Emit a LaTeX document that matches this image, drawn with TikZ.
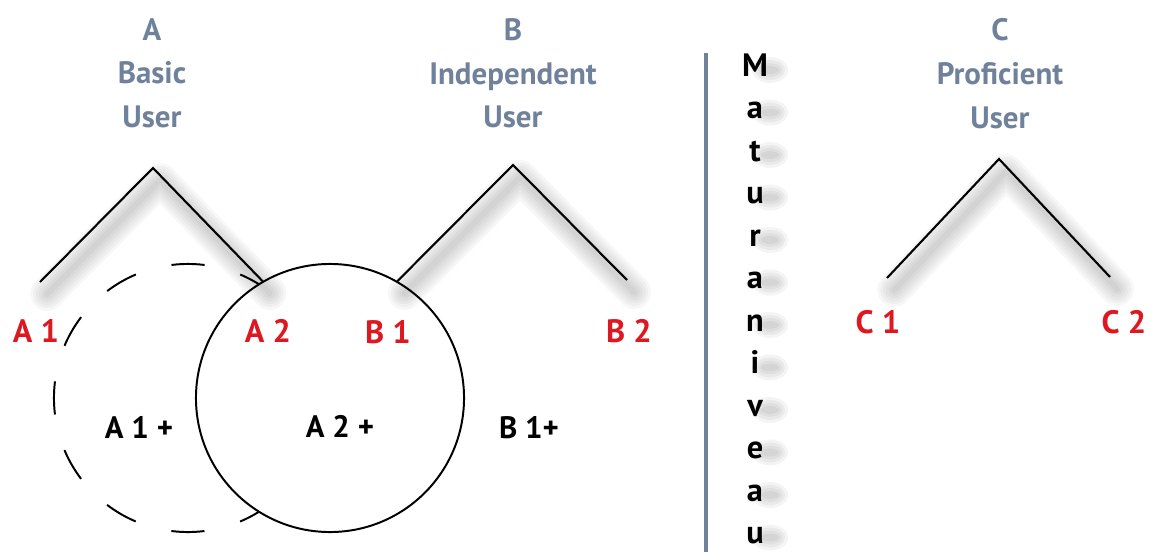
\documentclass[tikz,border=0pt]{standalone}
\usepackage{fontspec}
\setmainfont{PT Sans}
\usetikzlibrary{positioning}
\definecolor{userslate}{RGB}{112,130,155}
\definecolor{lvlred}{RGB}{222,24,32}

\begin{document}
\begin{tikzpicture}[x=0.025cm, y=-0.025cm,
  head/.style={font=\fontsize{22}{31.2}\selectfont\bfseries, text=userslate, align=center,
               inner sep=0pt, anchor=north},
  lvl/.style={font=\fontsize{23}{25}\selectfont\bfseries, text=lvlred, inner sep=0pt, anchor=base},
  sub/.style={font=\fontsize{22}{25}\selectfont\bfseries, inner sep=0pt, anchor=base},
  vlet/.style={font=\fontsize{23}{25}\selectfont\bfseries, inner sep=0pt, anchor=base},
  peak/.style={line width=1.5pt, line join=miter},
  shade/.style={draw=black, line width=#1, opacity=0.03, line cap=round, line join=round},
  blob/.style={fill=black, opacity=0.045},
  ring/.style={circle, draw, line width=1.4pt, minimum size=6.7cm, inner sep=0pt},
  divider/.style={draw=userslate, line width=3pt}]
\useasboundingbox (0,0) rectangle (1157,552);
% headings
\node[head] (ha) at (152,18) {A\\Basic\\User};
\node[head] (hb) at (513,18) {B\\Independent\\User};
\node[head] (hc) at (1000,18) {C\\Proficient\\User};
% peak points
\coordinate (atop) at (153,168); \coordinate (aleft) at (40,282);
\coordinate (btop) at (513,165); \coordinate (bright) at (627,280);
\coordinate (ctop) at (999,159); \coordinate (cleft) at (887,278); \coordinate (cright) at (1110,277);
% circles (dashed A1+, solid A2+ on top)
\node[ring, dash pattern=on 0.83cm off 0.924cm, dash phase=0.415cm] (a1c) at (188,398) {};
\node[ring, fill=white] (a2c) at (330,398) {};
% soft shadows under the peaks
\begin{scope}[transform canvas={xshift=0.18cm, yshift=-0.3cm}]
\foreach \w in {4,8,...,24}{
  \draw[shade=\w pt] (aleft) -- (atop) -- (a2c.120);
  \draw[shade=\w pt] (a2c.60) -- (btop) -- (bright);
  \draw[shade=\w pt] (cleft) -- (ctop) -- (cright);
}
\end{scope}
% peaks
\draw[peak] (aleft) -- (atop) -- (a2c.120);
\draw[peak] (a2c.60) -- (btop) -- (bright);
\draw[peak] (cleft) -- (ctop) -- (cright);
% level labels
\node[lvl] (la1) at (36,342) {A 1};
\node[lvl] (la2) at (268,342) {A 2};
\node[lvl] (lb1) at (388,343) {B 1};
\node[lvl] (lb2) at (629,342) {B 2};
\node[lvl] (lc1) at (878,333) {C 1};
\node[lvl] (lc2) at (1124,333) {C 2};
\node[sub] (pa1) at (139,438) {A 1 +};
\node[sub] (pa2) at (340,437) {A 2 +};
\node[sub] (pb1) at (529,438) {B 1+};
% divider and vertical word
\coordinate (dtop) at (706,53); \coordinate (dbot) at (706,552);
\draw[divider] (dtop) -- (dbot);
\foreach \ch [count=\i from 0] in {M,a,t,u,r,a,n,i,v,e,a,u}{
  \foreach \r in {4,7,10,13}
    \fill[blob] (770, 76+42.5*\i-6) ellipse ({\r+5} and \r);
  \node[vlet] (mv\i) at (755, 76+42.5*\i) {\ch};
}
\end{tikzpicture}
\end{document}
